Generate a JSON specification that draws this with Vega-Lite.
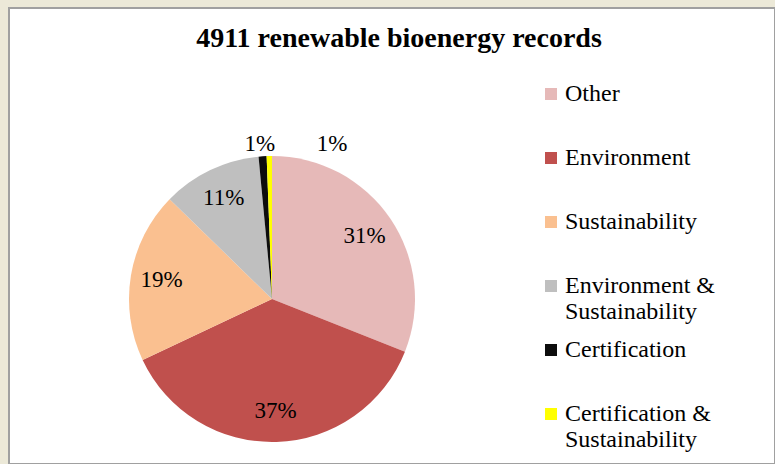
{
  "$schema": "https://vega.github.io/schema/vega-lite/v6.json",
  "autosize": {"type": "none"},
  "width": 766,
  "height": 456,
  "padding": {"left": 9, "top": 8, "right": 0, "bottom": 0},
  "background": "#ECE9D8",
  "view": {"fill": "white", "stroke": "#A0A0A0", "strokeWidth": 2},
  "config": {
    "view": {"fill": "white", "stroke": "#A0A0A0", "strokeWidth": 2},
    "font": "Liberation Serif"
  },
  "title": {
    "text": "4911 renewable bioenergy records",
    "font": "Liberation Serif",
    "fontSize": 28,
    "fontWeight": "bold",
    "color": "black",
    "anchor": "middle",
    "baseline": "alphabetic",
    "offset": -67,
    "dx": 7
  },
  "data": {
    "values": [
      {"category": "Other", "share": 0.31, "idx": 1},
      {"category": "Environment", "share": 0.37, "idx": 2},
      {"category": "Sustainability", "share": 0.193, "idx": 3},
      {"category": "Environment & Sustainability", "share": 0.112, "idx": 4},
      {"category": "Certification", "share": 0.009, "idx": 5},
      {"category": "Certification & Sustainability", "share": 0.006, "idx": 6}
    ]
  },
  "encoding": {
    "theta": {"field": "share", "type": "quantitative", "stack": true},
    "order": {"field": "idx", "type": "quantitative"},
    "color": {
      "field": "category",
      "type": "nominal",
      "scale": {
        "domain": ["Other", "Environment", "Sustainability", "Environment & Sustainability", "Certification", "Certification & Sustainability"],
        "range": ["#E6B9B8", "#C0504D", "#FAC090", "#BFBFBF", "#0D0D0D", "#FFFF00"]
      },
      "legend": {
        "title": null,
        "orient": "none",
        "legendX": 530,
        "legendY": 74,
        "padding": 0,
        "symbolType": "square",
        "symbolSize": 144,
        "symbolStrokeWidth": 0,
        "labelFont": "Liberation Serif",
        "labelFontSize": 24,
        "labelColor": "black",
        "labelOffset": 2,
        "labelLimit": 300,
        "gridAlign": "all",
        "rowPadding": 14,
        "labelExpr": "datum.label == 'Environment & Sustainability' ? ['Environment &', 'Sustainability'] : datum.label == 'Certification & Sustainability' ? ['Certification &', 'Sustainability'] : datum.label"
      }
    }
  },
  "layer": [
    {
      "mark": {"type": "arc", "outerRadius": 143, "x": 263, "y": 291}
    },
    {
      "mark": {"type": "text", "radius": 112, "x": 263, "y": 291, "fontSize": 23, "font": "Liberation Serif", "baseline": "middle", "align": "center"},
      "encoding": {
        "text": {"field": "share", "type": "quantitative", "format": ".0%"},
        "color": {"value": "black"},
        "detail": {"field": "category"},
        "opacity": {"condition": {"test": "datum.share >= 0.05", "value": 1}, "value": 0}
      }
    },
    {
      "mark": {"type": "text", "radius": 155, "x": 263, "y": 291, "dx": -2, "fontSize": 23, "font": "Liberation Serif", "baseline": "middle", "align": "center"},
      "encoding": {
        "text": {"field": "share", "type": "quantitative", "format": ".0%"},
        "color": {"value": "black"},
        "detail": {"field": "category"},
        "opacity": {"condition": {"test": "datum.category == 'Certification'", "value": 1}, "value": 0}
      }
    },
    {
      "mark": {"type": "text", "radius": 155, "x": 263, "y": 291, "dx": 63, "fontSize": 23, "font": "Liberation Serif", "baseline": "middle", "align": "center"},
      "encoding": {
        "text": {"field": "share", "type": "quantitative", "format": ".0%"},
        "color": {"value": "black"},
        "detail": {"field": "category"},
        "opacity": {"condition": {"test": "datum.category == 'Certification & Sustainability'", "value": 1}, "value": 0}
      }
    }
  ]
}
